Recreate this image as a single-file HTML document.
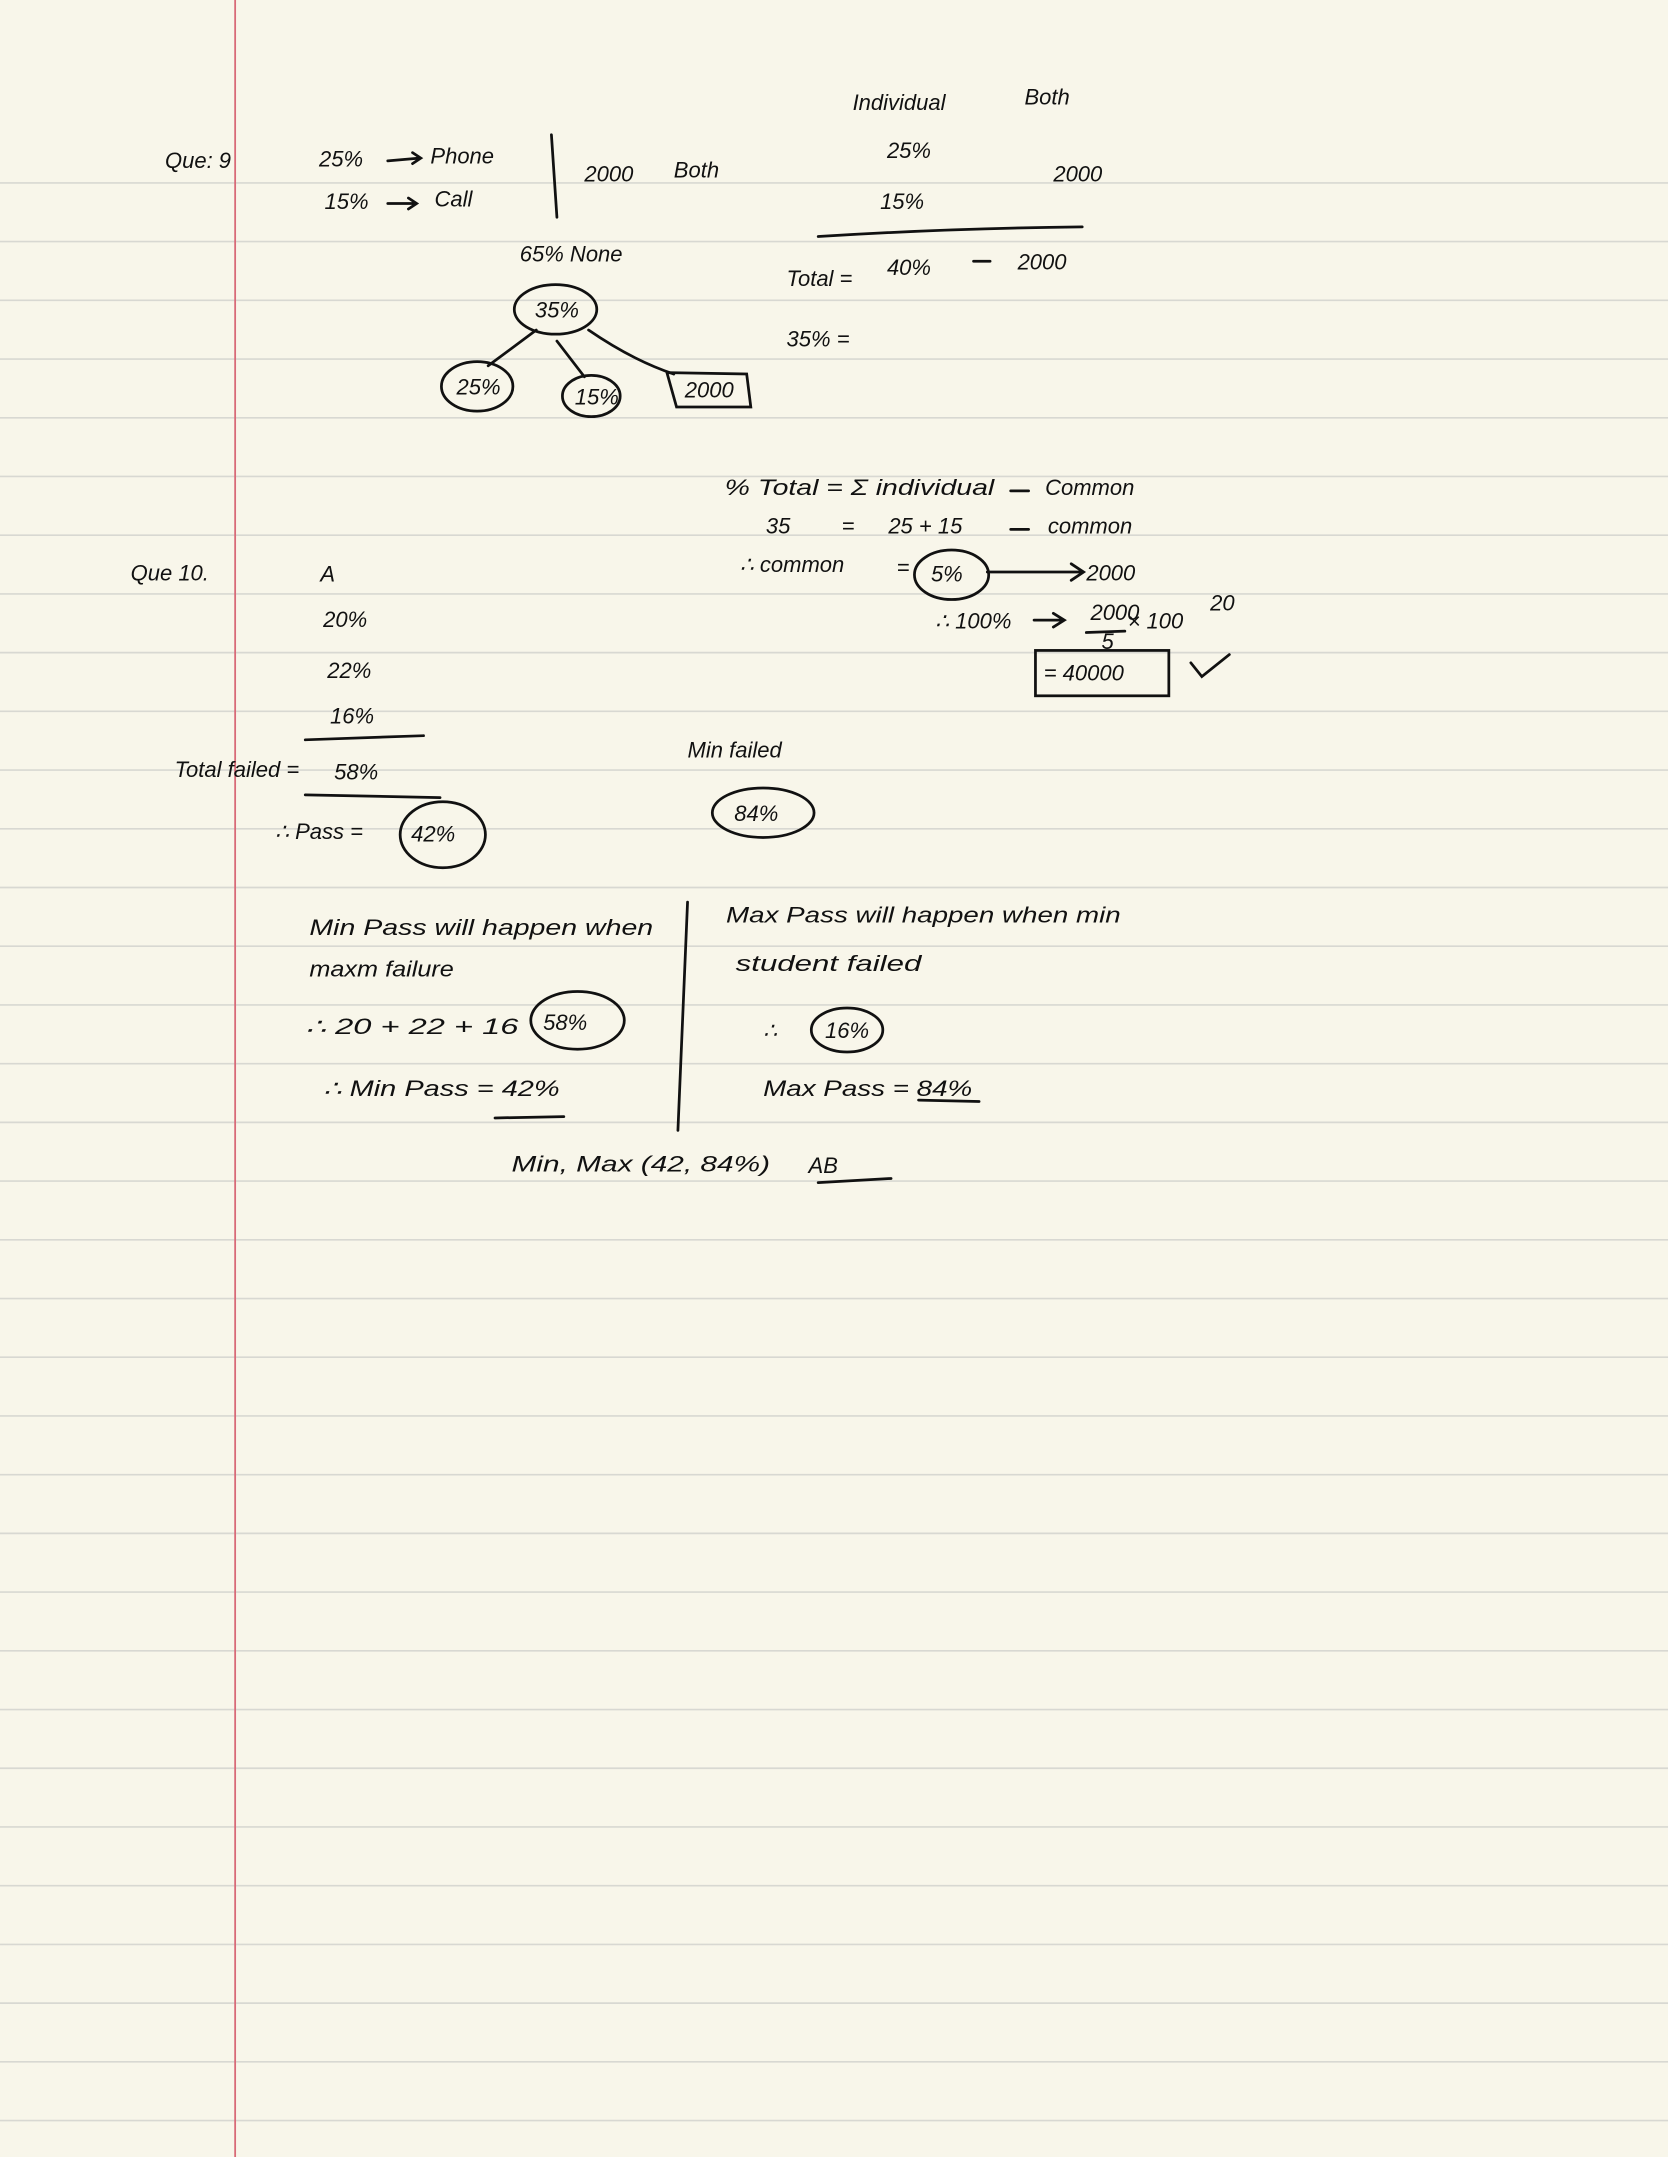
<!DOCTYPE html>
<html><head><meta charset="utf-8"><style>
html,body{margin:0;padding:0;background:#f8f6ea;}
svg{display:block}
text{font-family:"Liberation Sans",sans-serif;fill:#111;font-size:16px;font-style:italic}
</style></head><body>
<svg width="1668" height="2157" viewBox="0 0 1213 1568.6" xmlns="http://www.w3.org/2000/svg">
<rect width="1213" height="1569" fill="#f8f6ea"/>
<g stroke="#d8d8d2" stroke-width="1.2">
<line x1="0" y1="133" x2="1213" y2="133"/><line x1="0" y1="175.7" x2="1213" y2="175.7"/><line x1="0" y1="218.4" x2="1213" y2="218.4"/><line x1="0" y1="261.1" x2="1213" y2="261.1"/><line x1="0" y1="303.8" x2="1213" y2="303.8"/><line x1="0" y1="346.5" x2="1213" y2="346.5"/><line x1="0" y1="389.2" x2="1213" y2="389.2"/><line x1="0" y1="431.9" x2="1213" y2="431.9"/><line x1="0" y1="474.6" x2="1213" y2="474.6"/><line x1="0" y1="517.3" x2="1213" y2="517.3"/><line x1="0" y1="560" x2="1213" y2="560"/><line x1="0" y1="602.7" x2="1213" y2="602.7"/><line x1="0" y1="645.4" x2="1213" y2="645.4"/><line x1="0" y1="688.1" x2="1213" y2="688.1"/><line x1="0" y1="730.8" x2="1213" y2="730.8"/><line x1="0" y1="773.5" x2="1213" y2="773.5"/><line x1="0" y1="816.2" x2="1213" y2="816.2"/><line x1="0" y1="858.9" x2="1213" y2="858.9"/><line x1="0" y1="901.6" x2="1213" y2="901.6"/><line x1="0" y1="944.3" x2="1213" y2="944.3"/><line x1="0" y1="987" x2="1213" y2="987"/><line x1="0" y1="1029.7" x2="1213" y2="1029.7"/><line x1="0" y1="1072.4" x2="1213" y2="1072.4"/><line x1="0" y1="1115.1" x2="1213" y2="1115.1"/><line x1="0" y1="1157.8" x2="1213" y2="1157.8"/><line x1="0" y1="1200.5" x2="1213" y2="1200.5"/><line x1="0" y1="1243.2" x2="1213" y2="1243.2"/><line x1="0" y1="1285.9" x2="1213" y2="1285.9"/><line x1="0" y1="1328.6" x2="1213" y2="1328.6"/><line x1="0" y1="1371.3" x2="1213" y2="1371.3"/><line x1="0" y1="1414" x2="1213" y2="1414"/><line x1="0" y1="1456.7" x2="1213" y2="1456.7"/><line x1="0" y1="1499.4" x2="1213" y2="1499.4"/><line x1="0" y1="1542.1" x2="1213" y2="1542.1"/>
</g>
<line x1="171" y1="0" x2="171" y2="1569" stroke="#d86a78" stroke-width="1.3"/>

<g stroke="#111" stroke-width="2" fill="none" stroke-linecap="round">
<path d="M282 117 L305 115 M300 111 L306 115 L300 119"/>
<path d="M282 148 L302 148 M297 144 L303 148 L297 152"/>
<path d="M401 98 L405 158"/>
<path d="M595 172 Q690 166 787 165"/>
<path d="M708 190 L720 190"/>
<ellipse cx="404" cy="225" rx="30" ry="18"/>
<path d="M390 240 L355 266 M405 248 L425 274 M428 240 Q460 262 490 272"/>
<ellipse cx="347" cy="281" rx="26" ry="18"/>
<ellipse cx="430" cy="288" rx="21" ry="15"/>
<path d="M485 271 L543 272 L546 296 L492 296 Z"/>
<path d="M735 357 L748 357 M735 385 L748 385"/>
<ellipse cx="692" cy="418" rx="27" ry="18"/>
<path d="M718 416 L787 416 M779 410 L788 416 L779 422"/>
<path d="M752 451 L773 451 M766 446 L774 451 L766 456 M790 460 L818 459"/>
<rect x="753" y="473" width="97" height="33"/>
<path d="M866 482 L874 492 L894 476"/>
<path d="M222 538 L308 535 M222 578 L320 580"/>
<ellipse cx="322" cy="607" rx="31" ry="24"/>
<ellipse cx="555" cy="591" rx="37" ry="18"/>
<ellipse cx="420" cy="742" rx="34" ry="21"/>
<path d="M360 813 L410 812"/>
<path d="M500 656 L493 822"/>
<ellipse cx="616" cy="749" rx="26" ry="16"/>
<path d="M668 800 L712 801"/>
<path d="M595 860 L648 857"/>
</g>

<text x="120" y="122" font-size="17">Que: 9</text>
<text x="232" y="121">25%</text><text x="313" y="119" font-size="14">Phone</text>
<text x="236" y="152">15%</text><text x="316" y="150" font-size="14">Call</text>
<text x="425" y="132">2000</text><text x="490" y="129">Both</text>
<text x="620" y="80" font-size="15">Individual</text><text x="745" y="76" font-size="15">Both</text>
<text x="645" y="115">25%</text><text x="640" y="152" font-size="19">15%</text><text x="766" y="132" font-size="14">2000</text>
<text x="572" y="208">Total =</text><text x="645" y="200">40%</text><text x="740" y="196">2000</text>
<text x="572" y="252">35% =</text>
<text x="378" y="190" font-size="15">65% None</text>
<text x="389" y="231" font-size="15">35%</text>
<text x="332" y="287" font-size="15">25%</text>
<text x="418" y="294" font-size="14">15%</text>
<text x="498" y="289" font-size="13">2000</text>
<text x="527" y="360" font-size="15" textLength="196" lengthAdjust="spacingAndGlyphs">% Total = Σ individual</text><text x="760" y="360" font-size="14">Common</text>
<text x="557" y="388" font-size="15">35</text><text x="612" y="388">=</text><text x="646" y="388" font-size="16">25 + 15</text><text x="762" y="388" font-size="14">common</text>
<text x="538" y="416" font-size="14">∴ common</text><text x="652" y="418">=</text><text x="677" y="423" font-size="15">5%</text><text x="790" y="422" font-size="14">2000</text>
<text x="680" y="457" font-size="12">∴ 100%</text><text x="793" y="451" font-size="12">2000</text><text x="801" y="472" font-size="13">5</text><text x="820" y="457" font-size="13">× 100</text><text x="880" y="444" font-size="14">20</text>
<text x="759" y="495" font-size="16">= 40000</text>
<text x="95" y="422" font-size="15">Que 10.</text>
<text x="233" y="423">A</text><text x="235" y="456" font-size="15">20%</text><text x="238" y="493" font-size="15">22%</text><text x="240" y="526" font-size="14">16%</text>
<text x="127" y="565" font-size="14">Total failed =</text><text x="243" y="567" font-size="16">58%</text>
<text x="200" y="610" font-size="15">∴ Pass =</text><text x="299" y="612" font-size="15">42%</text>
<text x="500" y="551" font-size="14">Min failed</text>
<text x="534" y="597" font-size="15">84%</text>
<text x="225" y="680" font-size="16" textLength="250" lengthAdjust="spacingAndGlyphs">Min Pass will happen when</text>
<text x="225" y="710" font-size="15" textLength="105" lengthAdjust="spacingAndGlyphs">maxm failure</text>
<text x="222" y="752" font-size="17" textLength="155" lengthAdjust="spacingAndGlyphs">∴ 20 + 22 + 16</text><text x="395" y="749" font-size="16">58%</text>
<text x="235" y="797" font-size="15" textLength="172" lengthAdjust="spacingAndGlyphs">∴ Min Pass = 42%</text>
<text x="528" y="671" font-size="15" textLength="287" lengthAdjust="spacingAndGlyphs">Max Pass will happen when min</text>
<text x="535" y="706" font-size="15" textLength="135" lengthAdjust="spacingAndGlyphs">student failed</text>
<text x="555" y="755" font-size="15">∴</text><text x="600" y="755" font-size="15">16%</text>
<text x="555" y="797" font-size="15" textLength="152" lengthAdjust="spacingAndGlyphs">Max Pass = 84%</text>
<text x="372" y="852" font-size="15" textLength="188" lengthAdjust="spacingAndGlyphs">Min, Max (42, 84%)</text><text x="588" y="853" font-size="18">AB</text>
</svg>
</body></html>
